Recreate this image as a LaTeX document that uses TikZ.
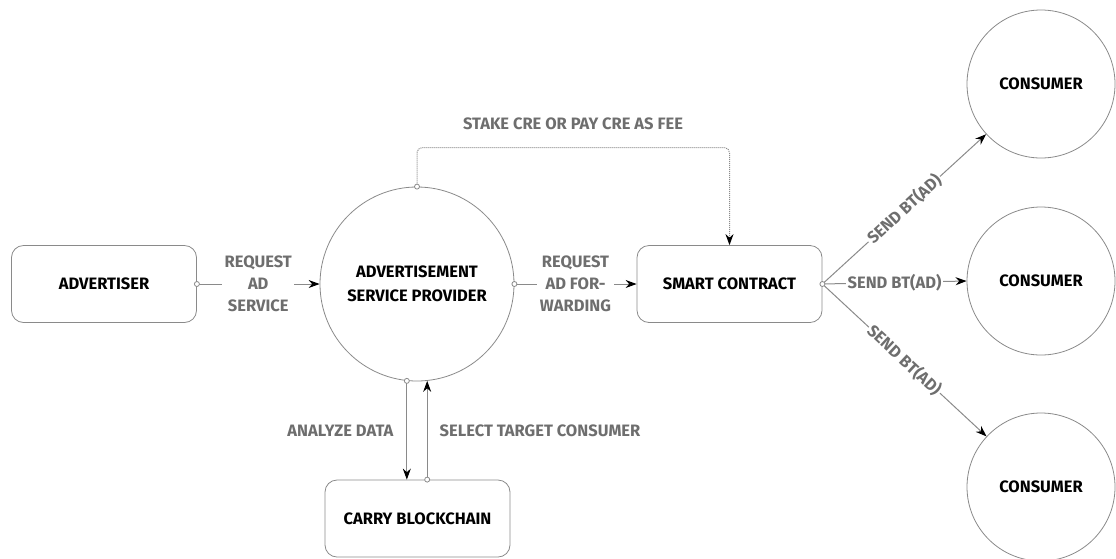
\documentclass[tikz,border=0pt]{standalone}
\usepackage{fontspec}
\setmainfont{Fira Sans}
\usetikzlibrary{arrows.meta}
\definecolor{lbl}{HTML}{6E6E6E}
\definecolor{edge}{HTML}{8A8A8A}
\begin{document}
\begin{tikzpicture}[x=1pt,y=-1pt,
  box/.style={draw=edge, line width=0.8pt, rounded corners=12pt, minimum width=185pt, minimum height=77pt, font=\bfseries\fontsize{16.5}{24}\selectfont, align=center},
  circ/.style={draw=edge, circle, line width=0.8pt, inner sep=0pt, font=\bfseries\fontsize{16.5}{24}\selectfont, align=center},
  conn/.style={draw=edge, line width=1pt, -{Stealth[black,length=11pt,width=8pt]}},
  lab/.style={fill=white, text=lbl, font=\bfseries\fontsize{16.5}{22}\selectfont, align=center, inner sep=2.5pt},
  dot/.style={draw=edge, fill=white, line width=0.8pt}
]
\useasboundingbox (0,0) rectangle (1116,558);

\node[box] (adv) at (104,284) {ADVERTISER};
\node[circ, minimum size=194pt] (asp) at (417,284) {ADVERTISEMENT\\SERVICE PROVIDER};
\node[box] (sc) at (729.5,284) {SMART CONTRACT};
\node[box] (cb) at (417.5,518.5) {CARRY BLOCKCHAIN};
\node[circ, minimum size=148pt] (c1) at (1041,84) {CONSUMER};
\node[circ, minimum size=148pt] (c2) at (1041,281) {CONSUMER};
\node[circ, minimum size=148pt] (c3) at (1041,487) {CONSUMER};

\draw[conn] (adv.east) -- node[lab] (l1) {REQUEST\\AD\\SERVICE} (asp.west);
\draw[conn] (asp.east) -- node[lab] (l2) {REQUEST\\AD FOR-\\WARDING} (sc.west);

\draw[conn, dash pattern=on 1pt off 1pt, rounded corners=5pt] (asp.north) -- ++(0,-39) -| (sc.north);
\node[text=lbl, font=\bfseries\fontsize{16.5}{18}\selectfont] (stake) at (573,124) {STAKE CRE OR PAY CRE AS FEE};

\draw[conn] (sc.east) -- node[lab, sloped, inner sep=1.5pt] (s1) {SEND BT(AD)} (c1);
\draw[conn] (sc.east) -- node[lab, inner sep=1.5pt] (s2) {SEND BT(AD)} (c2.west);
\draw[conn] (sc.east) -- node[lab, sloped, inner sep=1.5pt] (s3) {SEND BT(AD)} (c3);

\draw[conn] (asp.264) -- (asp.264 |- cb.north);
\draw[conn] (asp.276 |- cb.north) -- (asp.276);
\node[lab, anchor=east] (an) at (396,431) {ANALYZE DATA};
\node[lab, anchor=west] (sel) at (437,431) {SELECT TARGET CONSUMER};

\draw[dot] (adv.east) circle (2.5pt);
\draw[dot] (asp.east) circle (2.5pt);
\draw[dot] (asp.north) circle (2.5pt);
\draw[dot] (sc.east) circle (2.5pt);
\draw[dot] (asp.264) circle (2.5pt);
\draw[dot] (asp.276 |- cb.north) circle (2.5pt);
\end{tikzpicture}
\end{document}
